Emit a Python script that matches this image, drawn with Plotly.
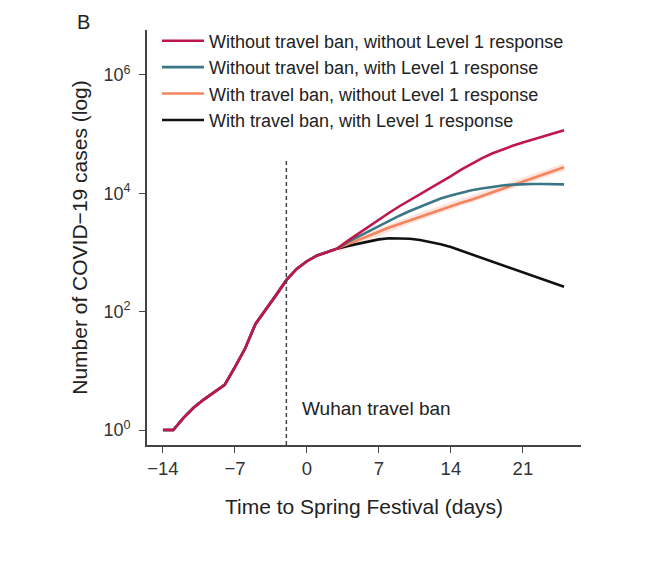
import plotly.graph_objects as go

days = list(range(-14, 26))

# shared part (days -14 .. 3)
common = [1, 1, 1.6, 2.4, 3.3, 4.4, 5.8, 11.5, 24, 62, 107, 190, 340, 525, 710, 890, 1020, 1170]

# scenario-specific parts (days 4 .. 25)
no_ban_no_l1 = [1585, 2089, 2754, 3631, 4677, 6026, 7586, 9550, 12020, 15140, 19500,
                25120, 31620, 38900, 46770, 54950, 63100, 71610, 80350, 90160, 102300, 116100]
no_ban_l1 = [1510, 1860, 2290, 2820, 3470, 4170, 5010, 5890, 7080, 8130, 9120,
             10230, 11220, 12020, 12880, 13490, 13960, 14290, 14290, 14290, 14130, 14130]
ban_no_l1 = [1380, 1620, 1910, 2240, 2630, 3020, 3470, 4070, 4680, 5370, 6030,
             6920, 7760, 8910, 10470, 12020, 13800, 15850, 18200, 20890, 23990, 27540]
ban_l1 = [1290, 1410, 1550, 1660, 1740, 1740, 1700, 1620, 1510, 1380, 1230,
          1070, 930, 810, 710, 610, 525, 457, 398, 347, 302, 263]

names = ["Without travel ban, without Level 1 response",
         "Without travel ban, with Level 1 response",
         "With travel ban, without Level 1 response",
         "With travel ban, with Level 1 response"]
colors = ["#C0164C", "#3B7686", "#F5845E", "#111111"]
series = [no_ban_no_l1, no_ban_l1, ban_no_l1, ban_l1]

tick_x = [-14, -7, 0, 7, 14, 21]
tick_x_text = ["\u221214", "\u22127", "0", "7", "14", "21"]
tick_y = [1, 100, 10000, 1000000]
tick_y_text = ["10<sup>0</sup>", "10<sup>2</sup>", "10<sup>4</sup>", "10<sup>6</sup>"]
ban_day = -2

fig = go.Figure()
# faint uncertainty halo under the orange scenario
fig.add_trace(go.Scatter(
    x=days[17:], y=(common + ban_no_l1)[17:], mode="lines", showlegend=False,
    hoverinfo="skip", line=dict(color="rgba(245,132,94,0.22)", width=7),
))
# draw bottom-most first (black), red on top
for i in [3, 2, 1, 0]:
    fig.add_trace(go.Scatter(
        x=days, y=common + series[i], mode="lines", name=names[i],
        line=dict(color=colors[i], width=2.6),
        legendgroup=f"g{i}", legendrank=i + 1,
    ))

font_family = "Liberation Sans, Arial, sans-serif"
axis_col = "#444444"

fig.update_layout(
    width=668, height=574,
    margin=dict(l=139, r=95, t=22, b=137, autoexpand=False),
    paper_bgcolor="white", plot_bgcolor="white",
    font=dict(family=font_family, color="#222222", size=18),
    showlegend=True,
    legend=dict(x=0.023, y=1.018, xanchor="left", yanchor="top",
                bgcolor="rgba(0,0,0,0)", font=dict(size=18, color="#222222"),
                tracegroupgap=0, itemwidth=42),
    xaxis=dict(range=[-15.55, 26.65], tickvals=tick_x, ticktext=tick_x_text,
               showgrid=False, zeroline=False, showline=True, linecolor=axis_col,
               linewidth=1.6, ticks="outside", ticklen=6, tickwidth=1.4, tickcolor=axis_col,
               tickfont=dict(size=18.5, color="#333333"), automargin=False,
               title=dict(text="Time to Spring Festival (days)", font=dict(size=21, color="#222222"),
                          standoff=21)),
    yaxis=dict(type="log", range=[-0.253, 6.757], tickvals=tick_y, ticktext=tick_y_text,
               showgrid=False, zeroline=False, showline=True, linecolor=axis_col,
               linewidth=1.6, ticks="outside", ticklen=6, tickwidth=1.4, tickcolor=axis_col,
               tickfont=dict(size=18, color="#333333"), ticklabelstandoff=5, automargin=False,
               title=dict(text="Number of COVID\u221219 cases (log)", font=dict(size=21, color="#222222"),
                          standoff=10)),
    shapes=[dict(type="line", xref="x", yref="paper", x0=ban_day, x1=ban_day, y0=0, y1=0.687,
                 line=dict(color=axis_col, width=1.5, dash="4px,3px"))],
    annotations=[
        dict(text="Wuhan travel ban", x=-0.65, y=0.37, xref="x", yref="y",
             xanchor="left", yanchor="middle", showarrow=False,
             font=dict(size=19, color="#222222")),
        dict(text="B", x=-0.166, y=1.02, xref="paper", yref="paper",
             xanchor="left", yanchor="middle", showarrow=False,
             font=dict(size=20, color="#222222")),
    ],
)

fig.write_html("out.html")
